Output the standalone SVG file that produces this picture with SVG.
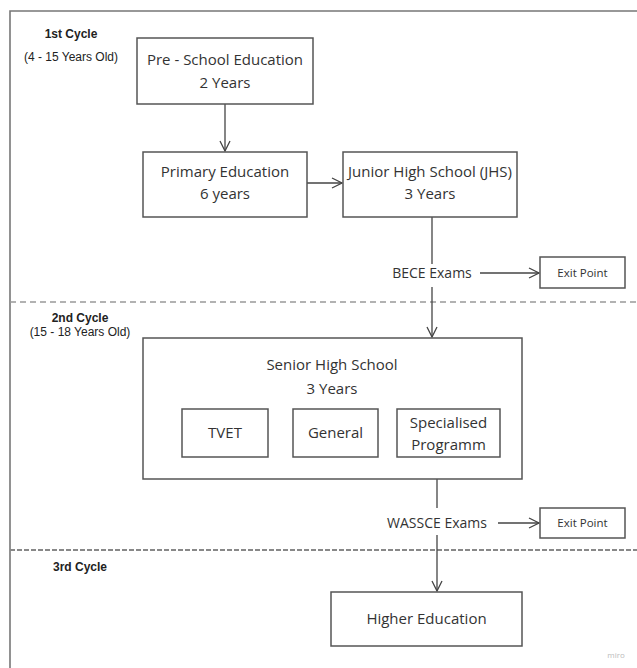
<svg xmlns="http://www.w3.org/2000/svg" width="637" height="668" viewBox="0 0 637 668">
<defs>
<marker id="arr" viewBox="0 0 12 12" refX="11" refY="6" markerWidth="12" markerHeight="12" markerUnits="userSpaceOnUse" orient="auto">
<path d="M1,1 L11,6 L1,11" fill="none" stroke="#444" stroke-width="1.3"/>
</marker>
<style>
.box{fill:#fff;stroke:#555;stroke-width:1.5}
.t{font-family:"Open Sans",sans-serif;fill:#333;text-anchor:middle}
.c{font-family:"Liberation Sans",Arial,sans-serif;fill:#222;text-anchor:middle;font-size:12px}
.b{font-weight:bold}
.ln{fill:none;stroke:#444;stroke-width:1.3}
</style>
</defs>
<rect width="637" height="668" fill="#fff"/>
<path d="M10,680 L10,11 L650,11" fill="none" stroke="#777" stroke-width="1.6"/>
<line x1="10" y1="302" x2="637" y2="302" stroke="#999" stroke-width="1.3" stroke-dasharray="6 4"/>
<line x1="10" y1="550" x2="637" y2="550" stroke="#888" stroke-width="2" stroke-dasharray="5 2"/>

<g id="cycle1"><text class="c b" x="71" y="38">1st Cycle</text><text class="c" x="71" y="61">(4 - 15 Years Old)</text></g>
<g id="cycle2"><text class="c b" x="80" y="322">2nd Cycle</text><text class="c" x="80" y="336">(15 - 18 Years Old)</text></g>
<g id="cycle3"><text class="c b" x="80" y="571">3rd Cycle</text></g>

<g id="connectors">
<line class="ln" x1="225" y1="104" x2="225" y2="151" marker-end="url(#arr)"/>
<line class="ln" x1="307" y1="183" x2="342" y2="183" marker-end="url(#arr)"/>
<line class="ln" x1="432" y1="217" x2="432" y2="264"/>
<line class="ln" x1="432" y1="287" x2="432" y2="337" marker-end="url(#arr)"/>
<line class="ln" x1="480" y1="273" x2="539" y2="273" marker-end="url(#arr)"/>
<line class="ln" x1="437" y1="479" x2="437" y2="508"/>
<line class="ln" x1="437" y1="535" x2="437" y2="591" marker-end="url(#arr)"/>
<line class="ln" x1="498" y1="523" x2="539" y2="523" marker-end="url(#arr)"/>
</g>

<g id="preschool"><rect class="box" x="137" y="38" width="176" height="66"/><text class="t" font-size="15" x="225" y="65">Pre - School Education</text><text class="t" font-size="15" x="225" y="88">2 Years</text></g>
<g id="primary"><rect class="box" x="143" y="152" width="164" height="65"/><text class="t" font-size="15" x="225" y="177">Primary Education</text><text class="t" font-size="15" x="225" y="199">6 years</text></g>
<g id="jhs"><rect class="box" x="343" y="152" width="174" height="65"/><text class="t" font-size="15" x="430" y="177">Junior High School (JHS)</text><text class="t" font-size="15" x="430" y="199">3 Years</text></g>
<g id="bece"><text class="t" font-size="14" x="432" y="278">BECE Exams</text></g>
<g id="exit1"><rect class="box" x="540" y="257" width="85" height="31"/><text class="t" font-size="11.5" x="582.5" y="277">Exit Point</text></g>
<g id="shs"><rect class="box" x="143" y="338" width="379" height="141"/><text class="t" font-size="15" x="332" y="370">Senior High School</text><text class="t" font-size="15" x="332" y="394">3 Years</text></g>
<g id="tvet"><rect class="box" x="182" y="409" width="86" height="48"/><text class="t" font-size="15" x="225" y="438">TVET</text></g>
<g id="general"><rect class="box" x="293" y="409" width="85" height="48"/><text class="t" font-size="15" x="335.5" y="438">General</text></g>
<g id="specialised"><rect class="box" x="397" y="409" width="103" height="48"/><text class="t" font-size="15" x="448.5" y="428">Specialised</text><text class="t" font-size="15" x="448.5" y="450">Programm</text></g>
<g id="wassce"><text class="t" font-size="14" x="437" y="528">WASSCE Exams</text></g>
<g id="exit2"><rect class="box" x="540" y="508" width="85" height="30"/><text class="t" font-size="11.5" x="582.5" y="527">Exit Point</text></g>
<g id="higher"><rect class="box" x="331" y="592" width="191" height="54"/><text class="t" font-size="15" x="426.5" y="624">Higher Education</text></g>
<text x="616" y="658" font-family="'Open Sans',sans-serif" font-size="8" fill="#bbb" text-anchor="middle">miro</text>
</svg>
